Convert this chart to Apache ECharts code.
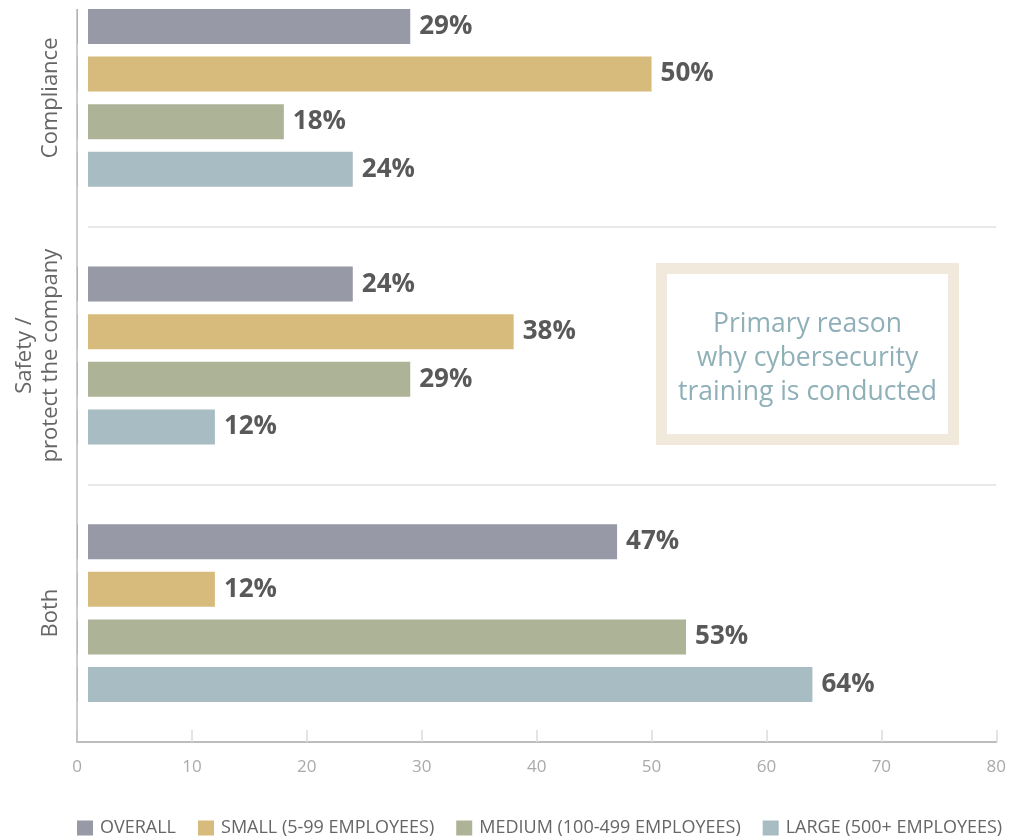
<!DOCTYPE html>
<html>
<head>
<meta charset="utf-8">
<title>Primary reason why cybersecurity training is conducted</title>
<script src="https://cdn.jsdelivr.net/npm/echarts@6/dist/echarts.min.js"></script>
<style>
  html, body { margin: 0; padding: 0; background: #ffffff; overflow: hidden; }
  /* the first reason band starts above the top edge of the page */
  #chart { width: 1009px; height: 871px; margin-top: -31px; }
</style>
</head>
<body>
<div id="chart"></div>
<script>
// Reasons (y categories, top to bottom)
const categories = ['Compliance', 'Safety /\nprotect the company', 'Both'];

// Respondent groups
const seriesNames = [
  'OVERALL',
  'SMALL (5-99 EMPLOYEES)',
  'MEDIUM (100-499 EMPLOYEES)',
  'LARGE (500+ EMPLOYEES)'
];

// Share of respondents (%) per reason
const overall = [29, 24, 47];
const small   = [50, 38, 12];
const medium  = [18, 29, 53];
const large   = [24, 12, 64];

// Value axis range
const xMin = 0;
const xMax = 80;
const xStep = 10;

const colors = ['#9799a6', '#d7bb7d', '#adb396', '#a8bdc3'];
const seriesData = [overall, small, medium, large];

const SHIFT = 31; // container offset above the page top
const GRID_LEFT = 77;
const GRID_RIGHT = 10;
const GRID_TOP = 0;
const GRID_BOTTOM = 98;

const chart = echarts.init(document.getElementById('chart'));

const series = seriesNames.map((name, i) => ({
  name: name,
  type: 'bar',
  data: seriesData[i],
  barWidth: 35,
  barGap: '36%',
  itemStyle: { color: colors[i] },
  label: {
    show: true,
    position: 'right',
    distance: 9,
    formatter: '{c}%',
    fontFamily: 'Open Sans',
    fontWeight: 'bold',
    fontSize: 26,
    color: '#595959'
  },
  emphasis: { disabled: true }
}));

chart.setOption({
  animation: false,
  backgroundColor: '#ffffff',
  color: colors,
  grid: {
    left: GRID_LEFT,
    right: GRID_RIGHT,
    top: GRID_TOP,
    bottom: GRID_BOTTOM,
    containLabel: false
  },
  xAxis: {
    type: 'value',
    min: xMin,
    max: xMax,
    interval: xStep,
    axisLine: { show: true, lineStyle: { color: '#bdbdbd', width: 2 } },
    axisTick: { show: true, inside: true, length: 12, lineStyle: { color: '#dcdcdc', width: 1.5 } },
    splitLine: { show: false },
    axisLabel: {
      color: '#aaaaaa',
      fontFamily: 'Open Sans',
      fontSize: 17,
      margin: 17
    }
  },
  yAxis: {
    type: 'category',
    data: categories,
    inverse: true,
    axisLine: { show: false },
    axisTick: { show: false },
    splitLine: { show: true, lineStyle: { color: '#e8e8e8', width: 2 } },
    axisLabel: {
      interval: 0,
      hideOverlap: false,
      rotate: 90,
      margin: 13,
      color: '#666666',
      fontFamily: 'Open Sans',
      fontSize: 22,
      lineHeight: 26
    }
  },
  legend: {
    data: seriesNames,
    left: 77,
    top: 819 + SHIFT,
    padding: 0,
    icon: 'rect',
    itemWidth: 16,
    itemHeight: 15,
    itemGap: 22,
    textStyle: {
      color: '#666666',
      fontFamily: 'Open Sans',
      fontSize: 18,
      padding: [0, 0, 0, 2]
    },
    selectedMode: false
  },
  graphic: [
    // gap between the value axis origin and the bar starts
    {
      type: 'rect',
      z: 100,
      shape: { x: GRID_LEFT + 1, y: 0, width: 10, height: 740 + SHIFT },
      style: { fill: '#ffffff' },
      silent: true
    },
    // left axis rule
    {
      type: 'line',
      z: 101,
      shape: { x1: GRID_LEFT, y1: 9 + SHIFT, x2: GRID_LEFT, y2: 742 + SHIFT },
      style: { stroke: '#bdbdbd', lineWidth: 1.5 },
      silent: true
    },
    // caption box
    {
      type: 'rect',
      z: 100,
      shape: { x: 661.5, y: 268.5 + SHIFT, width: 292, height: 171 },
      style: { fill: '#ffffff', stroke: '#f0e9dc', lineWidth: 11 },
      silent: true
    },
    {
      type: 'text',
      z: 101,
      x: 807.5,
      y: 358 + SHIFT,
      style: {
        text: 'Primary reason\nwhy cybersecurity\ntraining is conducted',
        align: 'center',
        verticalAlign: 'middle',
        fill: '#8fb0b8',
        fontFamily: 'Open Sans',
        fontSize: 26.5,
        lineHeight: 34
      },
      silent: true
    }
  ],
  series: series
});
</script>
</body>
</html>
